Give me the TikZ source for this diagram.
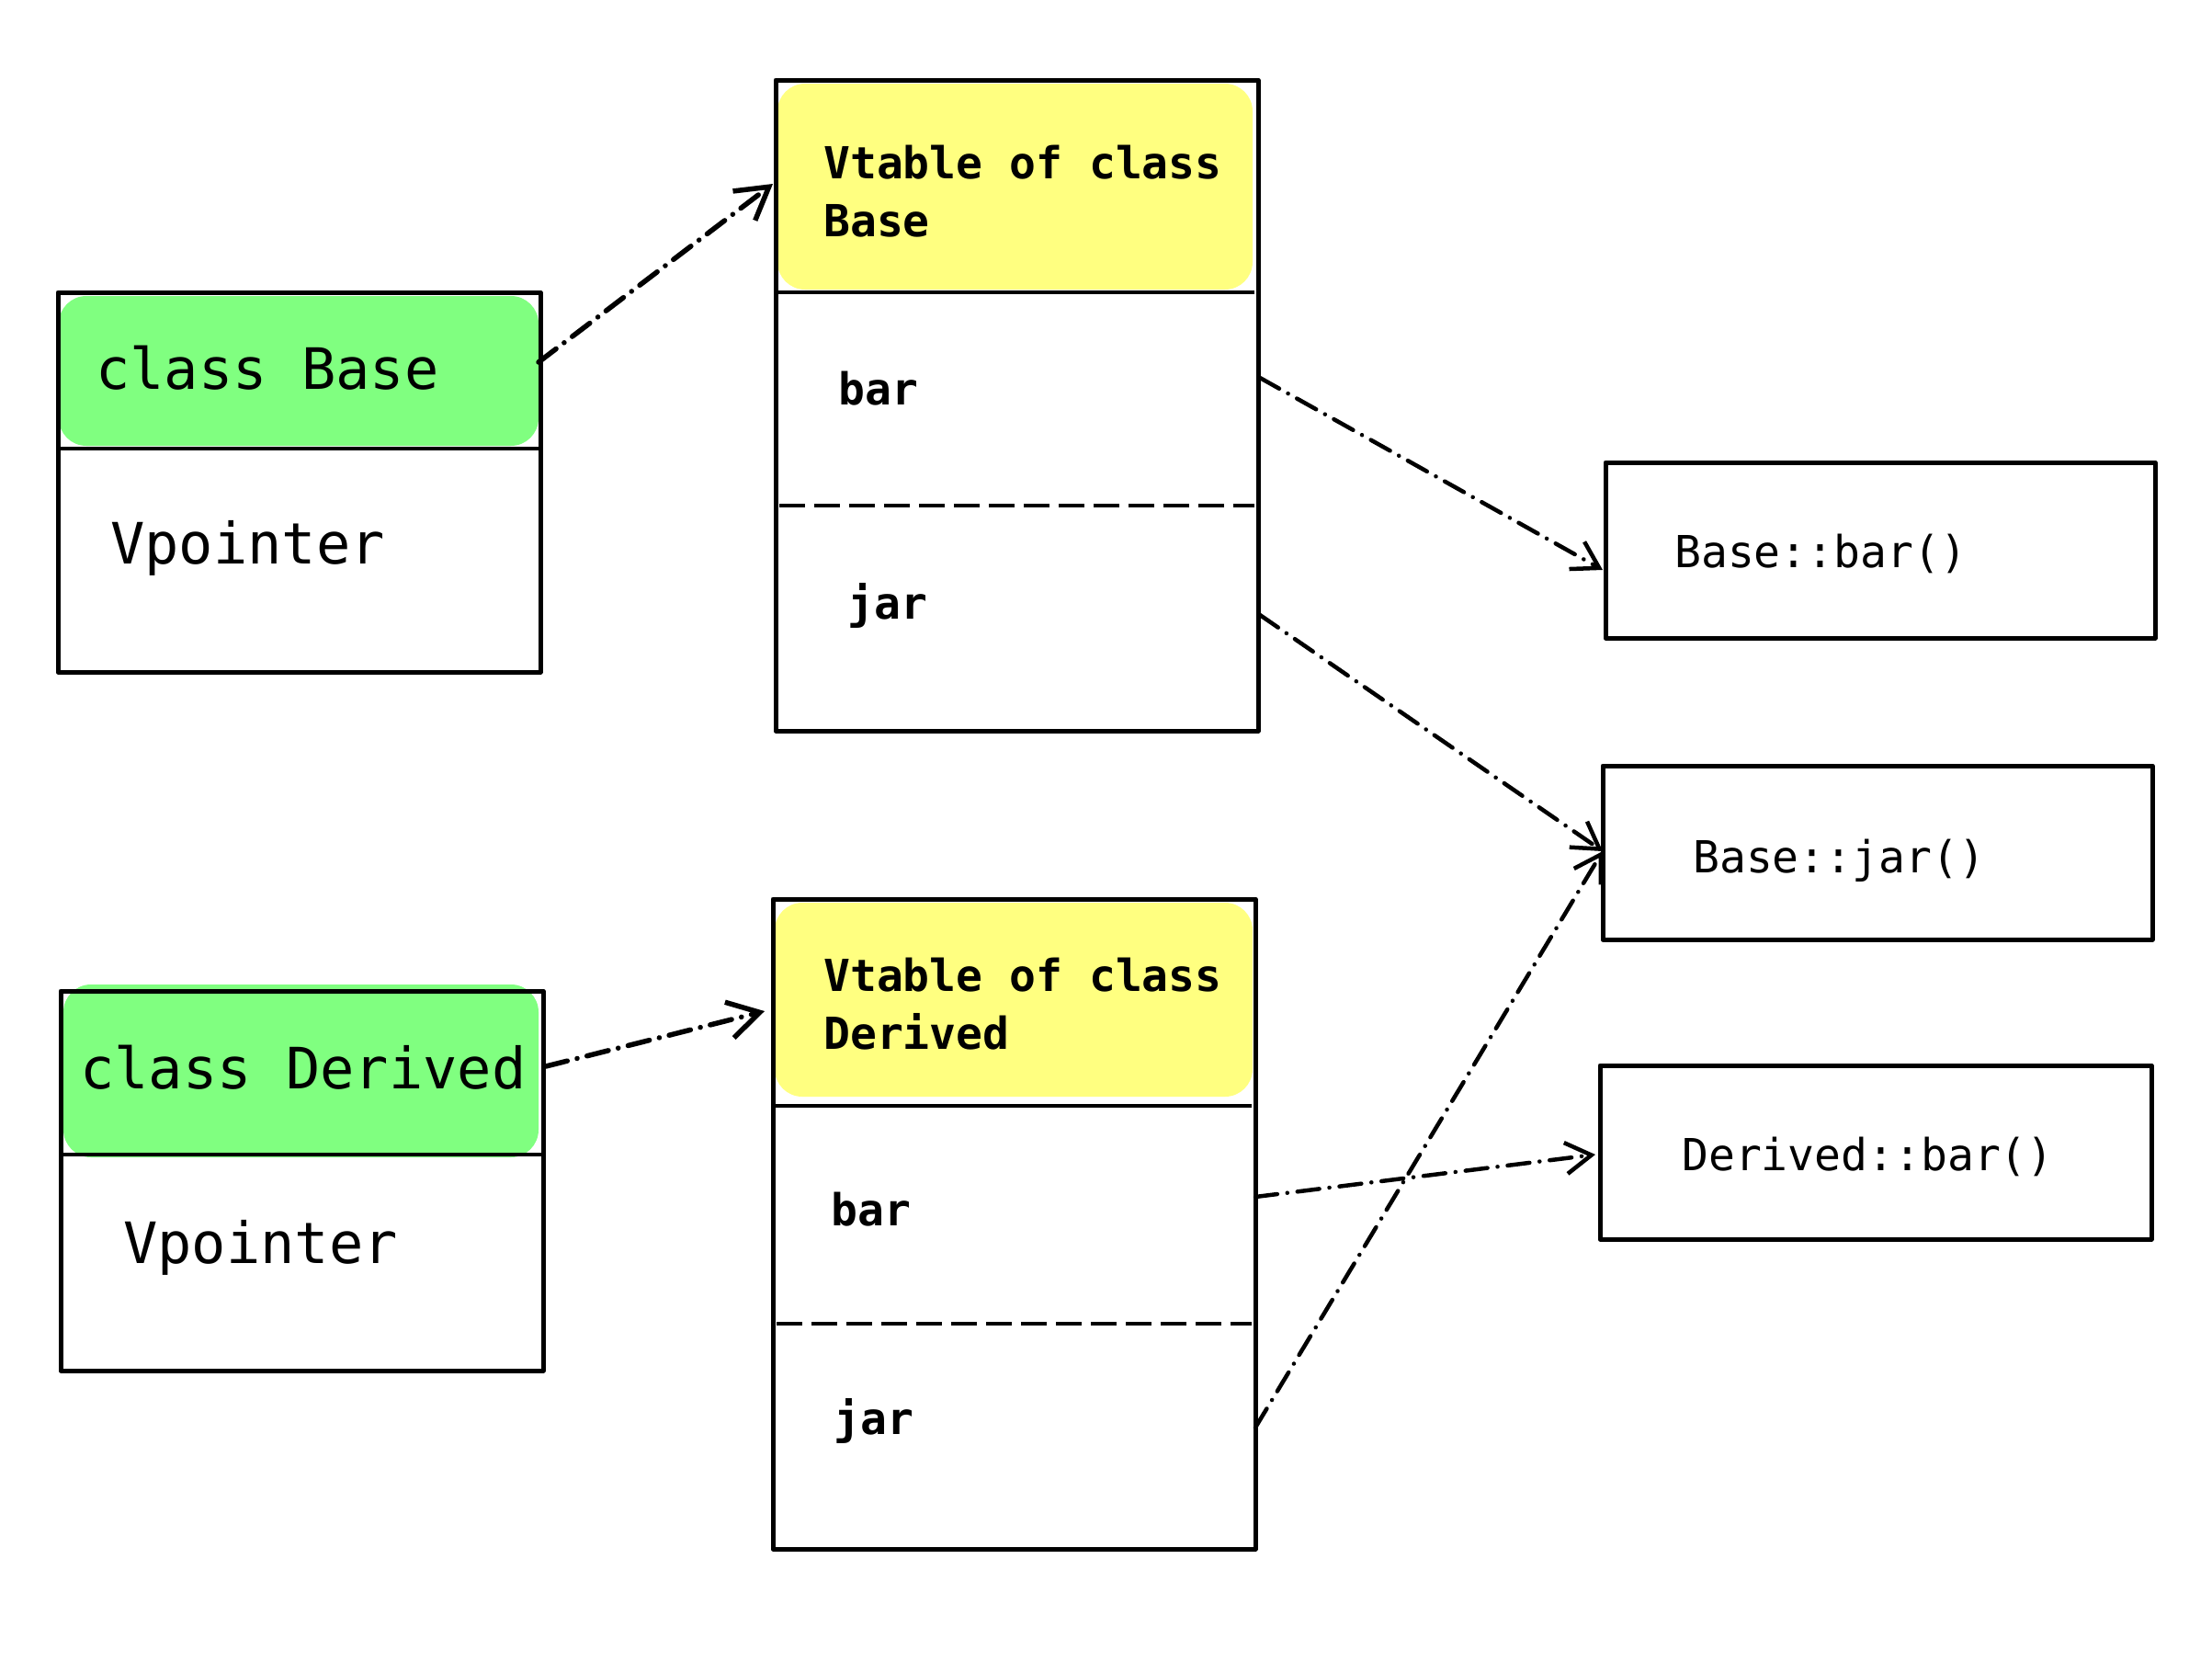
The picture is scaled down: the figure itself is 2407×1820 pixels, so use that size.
\documentclass[tikz,border=0pt]{standalone}
\usepackage{fontspec}
\setmonofont{DejaVu Sans Mono}
\usetikzlibrary{arrows.meta}
\definecolor{hdrgreen}{HTML}{80FF80}
\definecolor{hdryellow}{HTML}{FFFF80}
\begin{document}
\begin{tikzpicture}[x=1pt,y=-1pt,
  box/.style={draw=black, line width=5pt, rectangle, inner sep=0pt, outer sep=0pt, anchor=north west, line join=round},
  row/.style={rectangle, inner sep=0pt, outer sep=0pt, anchor=north west},
  hdr/.style={rectangle, rounded corners=30pt, inner sep=0pt, outer sep=0pt, anchor=north west},
  sepline/.style={line width=4.5pt},
  dashsep/.style={line width=4pt, dash pattern=on 28pt off 10pt},
  big/.style={font=\ttfamily\fontsize{62}{70}\selectfont, anchor=base west, inner sep=0pt},
  mid/.style={font=\ttfamily\bfseries\fontsize{48}{63}\selectfont, anchor=base west, inner sep=0pt},
  fn/.style={font=\ttfamily\fontsize{48}{56}\selectfont, anchor=base west, inner sep=0pt},
  dd/.style={line cap=round, dash pattern=on 24pt off 11pt on 0.1pt off 11pt},
  conn/.style={dd, line width=4.5pt, -{Straight Barb[length=28pt,width=34pt]}},
  connL/.style={dd, line width=5.5pt, -{Straight Barb[length=34pt,width=40pt]}},
]
\useasboundingbox (0,0) rectangle (2407,1820);
\fill[white] (0,0) rectangle (2407,1820);

% coloured headers
\node[hdr, fill=hdrgreen, minimum width=522pt, minimum height=163pt] (cbh) at (64,322) {};
\node[hdr, fill=hdrgreen, minimum width=517pt, minimum height=188pt] (cdh) at (69,1071) {};
\node[hdr, fill=hdryellow, minimum width=517pt, minimum height=224pt] (vbh) at (846,91) {};
\node[hdr, fill=hdryellow, minimum width=520pt, minimum height=211pt] (vdh) at (843,982) {};

% outer boxes
\node[box, minimum width=525pt, minimum height=413pt] (cb) at (63,318) {};
\node[box, minimum width=525pt, minimum height=413pt] (cd) at (66,1078) {};
\node[box, minimum width=525pt, minimum height=708pt] (vb) at (844,87) {};
\node[box, minimum width=525pt, minimum height=707pt] (vd) at (841,978) {};
\node[box, minimum width=598pt, minimum height=191pt] (fbb) at (1747,503) {};
\node[box, minimum width=598pt, minimum height=189pt] (fbj) at (1744,833) {};
\node[box, minimum width=600pt, minimum height=189pt] (fdb) at (1741,1159) {};

% vtable rows
\node[row, minimum width=525pt, minimum height=232pt] (vbbar) at (844,318) {};
\node[row, minimum width=525pt, minimum height=245pt] (vbjar) at (844,550) {};
\node[row, minimum width=525pt, minimum height=237pt] (vdbar) at (841,1203) {};
\node[row, minimum width=525pt, minimum height=245pt] (vdjar) at (841,1440) {};

% separators
\draw[sepline] (cb.west |- 0,488) coordinate (cbs1) -- (cb.east |- cbs1);
\draw[sepline] (cd.west |- 0,1256) coordinate (cds1) -- (cd.east |- cds1);
\draw[sepline] (vbbar.north west) -- ([xshift=-4pt]vbbar.north east);
\draw[dashsep] ([xshift=4pt]vbjar.north west) -- ([xshift=-4pt]vbjar.north east);
\draw[sepline] (vdbar.north west) -- ([xshift=-4pt]vdbar.north east);
\draw[dashsep] ([xshift=4pt]vdjar.north west) -- ([xshift=-4pt]vdjar.north east);

% texts
\node[big] (t1) at (104,423) {class Base};
\node[big] (t2) at (120,613) {Vpointer};
\node[big] (t3) at (87,1184) {class Derived};
\node[big] (t4) at (134,1374) {Vpointer};
\node[mid] (t5) at (896,194) {Vtable of class};
\node[mid] (t6) at (896,257) {Base};
\node[mid] (t7) at (912,440) {bar};
\node[mid] (t8) at (922,673) {jar};
\node[mid] (t9) at (896,1078) {Vtable of class};
\node[mid] (t10) at (896,1141) {Derived};
\node[mid] (t11) at (904,1333) {bar};
\node[mid] (t12) at (907,1560) {jar};
\node[fn] (t13) at (1822,617) {Base::bar()};
\node[fn] (t14) at (1842,949) {Base::jar()};
\node[fn] (t15) at (1830,1273) {Derived::bar()};

% connectors
\draw[connL] ([yshift=9.5pt]cbh.east) -- ([xshift=-5pt,yshift=3pt]vbh.west);
\draw[connL] ([xshift=8pt,yshift=5pt]cdh.east) -- ([xshift=-11pt,yshift=-12.5pt]vdh.west);
\draw[conn] ([xshift=2pt,yshift=23pt]vbbar.east) -- ([xshift=-3pt,yshift=-21.5pt]fbb.west);
\draw[conn] ([xshift=2pt,yshift=3.5pt]vbjar.east) -- ([yshift=1.5pt]fbj.west);
\draw[conn] ([yshift=19.5pt]vdbar.east) -- ([xshift=-5pt,yshift=-2.5pt]fdb.west);
\draw[conn] ([yshift=9.5pt]vdjar.east) -- ([yshift=1.5pt]fbj.west);
\end{tikzpicture}
\end{document}
